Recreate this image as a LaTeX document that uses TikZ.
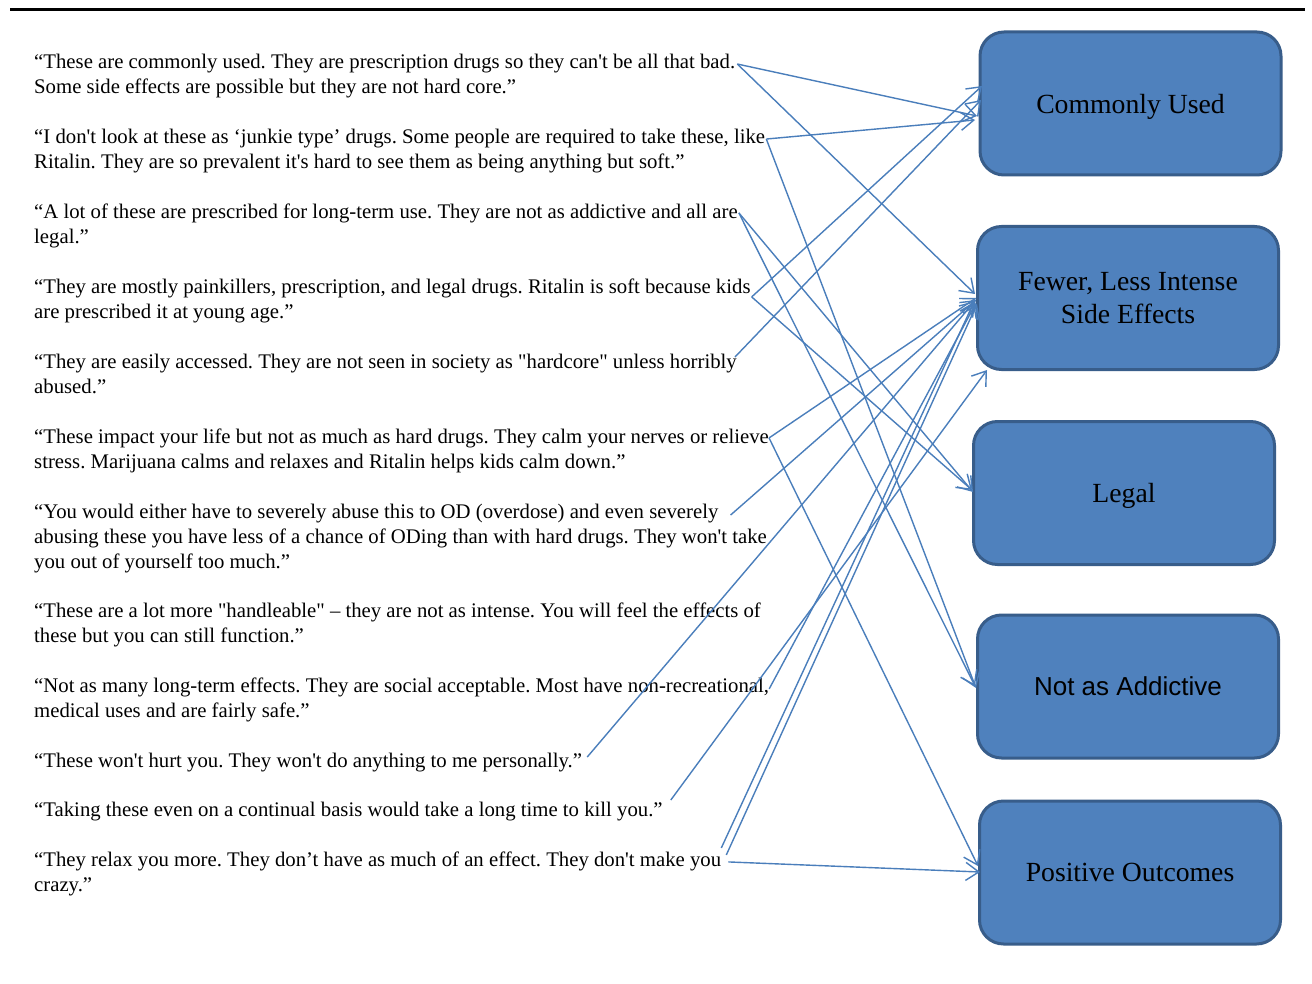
\documentclass[tikz,border=0pt]{standalone}
\usepackage{fontspec}
\setmainfont{Liberation Serif}[Ligatures=TeXOff]
\newfontfamily\labsans{Liberation Sans}
\usetikzlibrary{arrows.meta}
\definecolor{boxfill}{RGB}{79,129,189}
\definecolor{boxedge}{RGB}{56,93,138}
\definecolor{linkcol}{RGB}{74,126,187}
\frenchspacing
\begin{document}
\begin{tikzpicture}[x=1pt,y=-1pt,
  qline/.style={anchor=base west, inner sep=0pt, font=\fontsize{20.75}{25}\selectfont},
  catbox/.style={draw=boxedge, fill=boxfill, line width=3pt, rounded corners=24pt,
    minimum width=301pt, minimum height=143pt, font=\fontsize{27.7}{33}\selectfont,
    align=center, inner sep=0pt, text depth=0pt},
  link/.style={draw=linkcol, line width=1.4pt,
    -{Straight Barb[length=13pt,width=18pt,line width=1.4pt]}}
]
\fill[white] (0,0) rectangle (1312,984);
\useasboundingbox (0,0) rectangle (1312,984);
\draw[line width=3pt] (10,10) -- (1305,10);

% category boxes
\node[catbox] (b1) at (1130.5,103.5) {Commonly Used};
\node[catbox] (b2) at (1128,298) {Fewer, Less Intense\\Side Effects};
\node[catbox] (b3) at (1124,493) {Legal};
\node[catbox, font=\labsans\fontsize{26}{31}\selectfont] (b4) at (1128,686.5) {Not as Addictive};
\node[catbox] (b5) at (1130,872.5) {Positive Outcomes};

% quotes
\node[qline] (q1a) at (34,69) {“These are commonly used. They are prescription drugs so they can't be all that bad.};
\node[qline] (q1b) at (34,94) {Some side effects are possible but they are not hard core.”};
\node[qline] (q2a) at (34,144) {“I don't look at these as ‘junkie type’ drugs. Some people are required to take these, like};
\node[qline] (q2b) at (34,169) {Ritalin. They are so prevalent it's hard to see them as being anything but soft.”};
\node[qline] (q3a) at (34,219) {“A lot of these are prescribed for long-term use. They are not as addictive and all are};
\node[qline] (q3b) at (34,244) {legal.”};
\node[qline] (q4a) at (34,294) {“They are mostly painkillers, prescription, and legal drugs. Ritalin is soft because kids};
\node[qline] (q4b) at (34,319) {are prescribed it at young age.”};
\node[qline] (q5a) at (34,368) {“They are easily accessed. They are not seen in society as "hardcore" unless horribly};
\node[qline] (q5b) at (34,393) {abused.”};
\node[qline] (q6a) at (34,443) {“These impact your life but not as much as hard drugs. They calm your nerves or relieve};
\node[qline] (q6b) at (34,468) {stress. Marijuana calms and relaxes and Ritalin helps kids calm down.”};
\node[qline] (q7a) at (34,518) {“You would either have to severely abuse this to OD (overdose) and even severely};
\node[qline] (q7b) at (34,543) {abusing these you have less of a chance of ODing than with hard drugs. They won't take};
\node[qline] (q7c) at (34,568) {you out of yourself too much.”};
\node[qline] (q8a) at (34,617) {“These are a lot more "handleable" – they are not as intense. You will feel the effects of};
\node[qline] (q8b) at (34,642) {these but you can still function.”};
\node[qline] (q9a) at (34,692) {“Not as many long-term effects. They are social acceptable. Most have non-recreational,};
\node[qline] (q9b) at (34,717) {medical uses and are fairly safe.”};
\node[qline] (q10a) at (34,767) {“These won't hurt you. They won't do anything to me personally.”};
\node[qline] (q11a) at (34,816) {“Taking these even on a continual basis would take a long time to kill you.”};
\node[qline] (q12a) at (34,866) {“They relax you more. They don’t have as much of an effect. They don't make you};
\node[qline] (q12b) at (34,891) {crazy.”};

% start points of connectors
\coordinate (s1) at ([xshift=2pt]q1a.east);
\coordinate (s2) at ([xshift=1pt]q2a.east);
\coordinate (s3) at ([xshift=1pt,yshift=1pt]q3a.east);
\coordinate (s4) at ([xshift=1pt,yshift=-8pt]q4a.east);
\coordinate (s5) at ([xshift=-2pt,yshift=6pt]q5a.east);
\coordinate (s6) at ([xshift=0pt]q6a.east);
\coordinate (s7) at ([xshift=12pt,yshift=-2pt]q7a.east);
\coordinate (s9) at ([xshift=0pt,yshift=-2pt]q9a.east);
\coordinate (s10) at ([xshift=5pt,yshift=5pt]q10a.east);
\coordinate (s11) at ([xshift=8pt,yshift=11pt]q11a.east);
\coordinate (s12a) at ([xshift=0pt,yshift=13pt]q12a.east);
\coordinate (s12b) at ([xshift=5pt,yshift=6pt]q12a.east);
\coordinate (s12c) at ([xshift=7pt,yshift=-1pt]q12a.east);

% arrow end points on the boxes
\coordinate (b1p1) at (977,116);
\coordinate (b1p2) at (975,120);
\coordinate (b1p3) at (982,86);
\coordinate (b1p4) at (981,100);
\coordinate (b2p0) at (975,294);
\coordinate (b2p1) at (976,298);
\coordinate (b2p2) at (976,300);
\coordinate (b2p3) at (976,303);
\coordinate (b2p4) at (975,301);
\coordinate (b2p5) at (974,302);
\coordinate (b2p6) at (977,304);
\coordinate (b2p7) at (987,370);
\coordinate (b3p1) at (973,492);
\coordinate (b3p2) at (972,490);
\coordinate (b4p1) at (975,686);
\coordinate (b4p2) at (976,688);
\coordinate (b5p1) at (978,866);
\coordinate (b5p2) at (980,872);

% connectors
\draw[link] (s1) -- (b1p1);
\draw[link] (s1) -- (b2p0);
\draw[link] (s2) -- (b1p2);
\draw[link] (s2) -- (b4p2);
\draw[link] (s3) -- (b3p1);
\draw[link] (s3) -- (b4p1);
\draw[link] (s4) -- (b1p3);
\draw[link] (s4) -- (b3p2);
\draw[link] (s5) -- (b1p4);
\draw[link] (s6) -- (b2p1);
\draw[link] (s6) -- (b5p1);
\draw[link] (s7) -- (b2p2);
\draw[link] (s9) -- (b2p3);
\draw[link] (s10) -- (b2p4);
\draw[link] (s11) -- (b2p7);
\draw[link] (s12a) -- (b2p5);
\draw[link] (s12b) -- (b2p6);
\draw[link] (s12c) -- (b5p2);
\end{tikzpicture}
\end{document}
